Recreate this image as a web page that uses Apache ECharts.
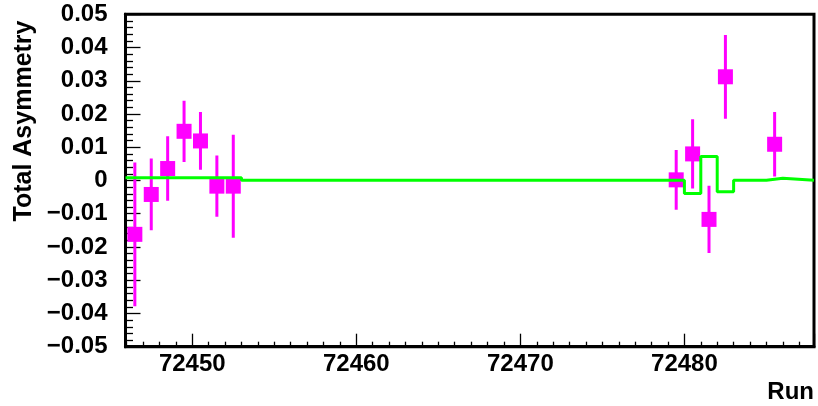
<!DOCTYPE html>
<html><head><meta charset="utf-8">
<script src="https://cdn.jsdelivr.net/npm/echarts@6/dist/echarts.min.js"></script>
<style>html,body{margin:0;padding:0;background:#fff}#c{width:818px;height:406px}</style>
</head><body><div id="c"></div>
<script>
// Measured data (run number at bin centre, total asymmetry, error)
const runs = [72446.5, 72447.5, 72448.5, 72449.5, 72450.5, 72451.5, 72452.5, 72479.5, 72480.5, 72481.5, 72482.5, 72485.5];
const asym = [-0.0162, -0.0042, 0.0036, 0.0148, 0.0119, -0.0017, -0.0017, 0.0002, 0.0080, -0.0117, 0.0312, 0.0109];
const asymErr = [0.0216, 0.0108, 0.0097, 0.0092, 0.0087, 0.0092, 0.0155, 0.0090, 0.0104, 0.0101, 0.0126, 0.0097];
// Green step line: bin start (run) and value
const fitStart = [72445.93, 72453, 72480, 72481, 72482, 72483, 72485, 72486];
const fitValue = [0.0008, 0.0001, -0.0039, 0.0072, -0.0034, 0.0001, 0.0007, 0.0001];
const xMin = 72445.93, xMax = 72487.9;
const yMin = -0.05, yMax = 0.05, yStep = 0.01;
const yTitle = 'Total Asymmetry';
const xTitle = 'Run';

const pts = runs.map((r, i) => [r, asym[i], asymErr[i]]);
const step = fitStart.map((s, i) => [s, fitValue[i]]);
step.push([xMax, fitValue[fitValue.length - 1]]);

const FONT = 'Liberation Sans, Arial, Helvetica, sans-serif';
const chart = echarts.init(document.getElementById('c'), null, {renderer: 'canvas'});
chart.setOption({
  animation: false,
  backgroundColor: '#fff',
  grid: {left: 125.5, right: 4, top: 14.3, bottom: 59.3, show: true, borderColor: '#000', borderWidth: 3, containLabel: false, outerBoundsMode: 'none'},
  xAxis: {
    type: 'value', min: xMin, max: xMax, splitNumber: 5,
    axisLine: {show: true, onZero: false, lineStyle: {color: '#000', width: 3}},
    axisTick: {show: true, inside: true, length: 13, lineStyle: {color: '#000', width: 1.3}},
    minorTick: {show: true, splitNumber: 10, length: 5, lineStyle: {color: '#000', width: 1.3}},
    splitLine: {show: false},
    axisLabel: {show: true, showMinLabel: false, showMaxLabel: false, margin: 6, color: '#000', fontSize: 24, fontWeight: 'bold', fontFamily: FONT,
      formatter: v => (Math.abs(v / 10 - Math.round(v / 10)) < 1e-6 ? String(Math.round(v)) : '')}
  },
  yAxis: {
    type: 'value', min: yMin, max: yMax, interval: yStep,
    axisLine: {show: true, onZero: false, lineStyle: {color: '#000', width: 3}},
    axisTick: {show: true, inside: true, length: 15, lineStyle: {color: '#000', width: 1.3}},
    minorTick: {show: true, splitNumber: 5, length: 7.5, lineStyle: {color: '#000', width: 1.3}},
    splitLine: {show: false},
    axisLabel: {show: true, margin: 18, color: '#000', fontSize: 24, fontWeight: 'bold', fontFamily: FONT,
      formatter: v => Math.abs(v) < 1e-9 ? '0' : (v < 0 ? '\u2212' : '') + Math.abs(v).toFixed(2)}
  },
  graphic: [
    {type: 'text', x: 24, y: 121, rotation: Math.PI / 2, z: 10,
      style: {text: yTitle, fill: '#000', font: 'bold 25px ' + FONT, textAlign: 'center', textVerticalAlign: 'middle'}},
    {type: 'text', x: 814, y: 392, z: 10,
      style: {text: xTitle, fill: '#000', font: 'bold 24px ' + FONT, textAlign: 'right', textVerticalAlign: 'middle'}}
  ],
  series: [
    {type: 'custom', data: pts, z: 2, clip: true,
      renderItem: (params, api) => {
        const x = api.value(0), y = api.value(1), e = api.value(2);
        const p1 = api.coord([x, y + e]), p2 = api.coord([x, y - e]);
        return {type: 'line', shape: {x1: p1[0], y1: p1[1], x2: p2[0], y2: p2[1]}, style: {stroke: '#ff00ff', lineWidth: 3}};
      }},
    {type: 'scatter', data: pts, symbol: 'rect', symbolSize: 15, z: 3, itemStyle: {color: '#ff00ff', opacity: 1}},
    {type: 'line', data: step, step: 'end', symbol: 'none', z: 4, clip: true, lineStyle: {color: '#00ff00', width: 3}}
  ]
});
</script></body></html>
